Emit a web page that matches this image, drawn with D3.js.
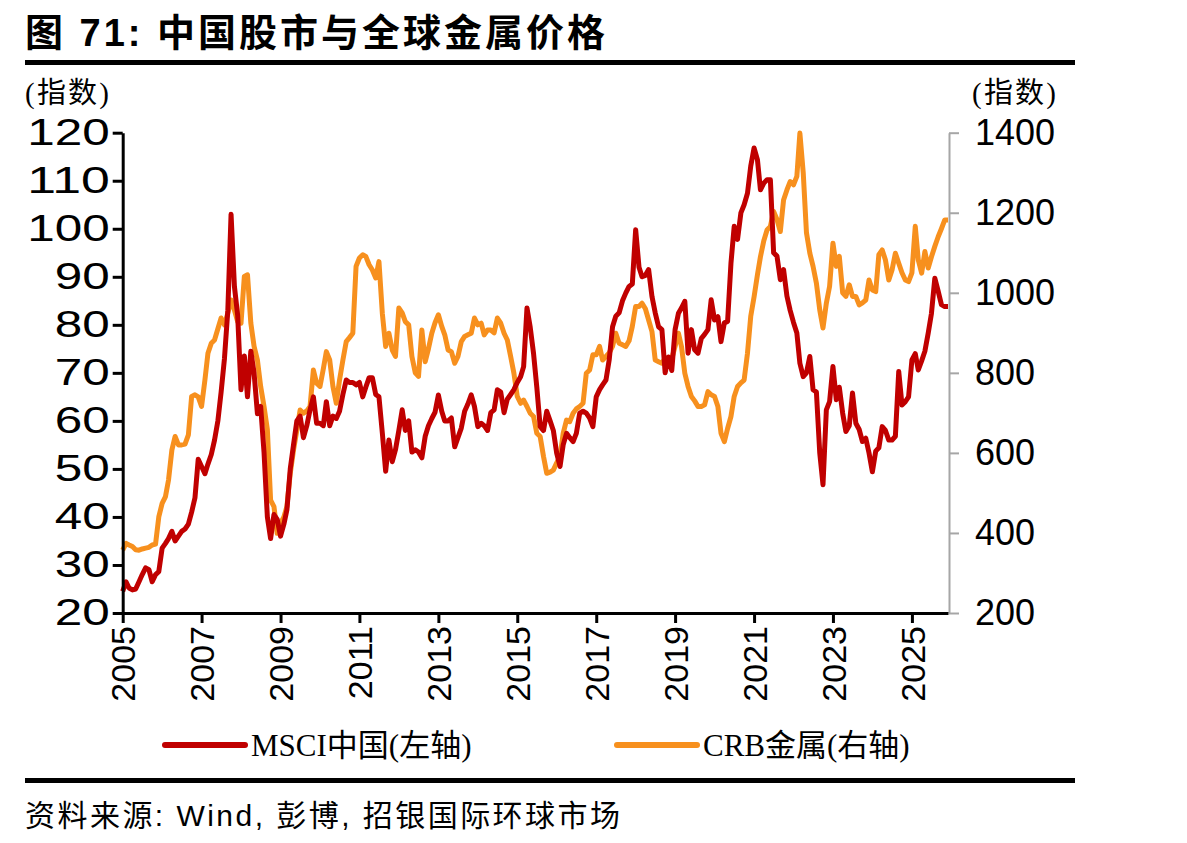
<!DOCTYPE html>
<html>
<head>
<meta charset="utf-8">
<script src="https://cdn.jsdelivr.net/npm/d3@7"></script>
<style>
  body { margin: 0; background: #fff; }
</style>
</head>
<body>
<svg id="chart" width="1187" height="843"></svg>
<script>
// monthly values, Jan 2005 .. Dec 2025
const startYear = 2005;

const msci = [
  24.5, 26.5, 25.2, 24.8, 25, 26.5, 28, 29.4, 29, 26.5, 28, 28.6,          // 2005
  33.5, 34.5, 35.5, 37, 35, 36, 37, 37.5, 38.5, 41, 44, 52,                // 2006
  50.5, 49, 51, 53, 56, 60, 66, 73, 83, 103, 88, 82,                       // 2007
  66.5, 73.5, 65, 74.5, 70, 61.5, 63, 53.5, 40, 35.5, 40.5, 39.5,          // 2008
  36, 38.5, 41.5, 50, 55, 60, 61, 56.5, 59, 62.3, 65, 59.5,                // 2009
  59.5, 59, 64, 59, 61, 60.5, 62, 65.5, 68.5, 68, 68, 67.5,                // 2010
  68, 65, 67, 69, 69, 65.5, 65, 57.5, 49.5, 56, 51.5, 54,                  // 2011
  58, 62.3, 58, 60, 53.5, 54, 53.5, 52.3, 56.8, 59, 60.5, 61.8,            // 2012
  65.4, 62, 60, 60, 60.6, 54.6, 56.5, 58.5, 62, 63.5, 65.4, 63,            // 2013
  58.8, 59.5, 59, 58, 61.7, 62.3, 66.5, 66, 61.7, 64.5, 65.5, 66.5,        // 2014
  68, 69.2, 71.3, 83.5, 79.5, 74, 67, 58.8, 58, 62, 60, 58,                // 2015
  53.3, 50.5, 55, 57.4, 56.5, 55.7, 57.4, 61.6, 62, 61.6, 60.6, 58.8,      // 2016
  65, 66.5, 67.5, 68.5, 72.7, 79.6, 81.8, 82.5, 85, 86.6, 88, 88.5,        // 2017
  99.8, 92, 90, 90.3, 91.5, 85.9, 82.5, 79.6, 79, 70, 73.3, 70.5,          // 2018
  79, 82.4, 83.5, 84.9, 74.1, 79, 74.8, 74.1, 77.2, 78, 79, 85.2,          // 2019
  81, 81.7, 76.5, 80.4, 80.7, 92.8, 100.5, 97.8, 103.3, 105, 107.4, 113,   // 2020
  116.8, 114.4, 108.1, 109.5, 110.2, 110.2, 95, 94.3, 89.4, 91.5, 86, 83,  // 2021
  80.5, 78.3, 72, 69.2, 70, 73.4, 66.5, 66, 53.3, 46.7, 62.3, 64,          // 2022
  71.3, 64.4, 67, 61.6, 57.8, 59, 65.8, 59.5, 58.2, 55.7, 56.4, 53.3,      // 2023
  49.4, 53.7, 54.4, 58.8, 58, 56, 56, 56.8, 70.3, 63.3, 64, 65,            // 2024
  72.7, 74, 70.6, 72.5, 74.5, 78.3, 82.4, 89.7, 87, 84.2, 83.8, 83.8       // 2025
];

const crb = [
  357, 374, 370, 366, 358, 357, 360, 362, 364, 370, 372, 440,              // 2005
  474, 491, 532, 607, 641, 620, 620, 622, 645, 741, 745, 740,              // 2006
  716, 782, 849, 874, 882, 910, 937, 920, 949, 982, 957, 928,              // 2007
  924, 1041, 1045, 924, 866, 832, 766, 716, 658, 482, 466, 399,            // 2008
  424, 440, 466, 549, 607, 657, 707, 699, 705, 716, 807, 774,              // 2009
  766, 810, 853, 832, 766, 724, 782, 832, 878, 888, 899, 1066,             // 2010
  1087, 1095, 1091, 1070, 1057, 1037, 1078, 949, 866, 899, 857, 841,       // 2011
  962, 950, 928, 920, 841, 800, 791, 907, 828, 860, 899, 925,              // 2012
  945, 916, 895, 857, 853, 824, 841, 878, 891, 895, 899, 937,              // 2013
  920, 924, 895, 907, 907, 900, 937, 924, 899, 882, 841, 799,              // 2014
  741, 724, 732, 716, 699, 691, 649, 641, 591, 549, 552, 557,              // 2015
  575, 591, 649, 682, 678, 699, 710, 716, 724, 799, 807, 845,              // 2016
  845, 866, 832, 841, 850, 866, 899, 874, 870, 866, 880, 916,              // 2017
  966, 966, 974, 960, 932, 903, 832, 828, 824, 837, 828, 835,              // 2018
  866, 899, 866, 799, 766, 741, 730, 716, 716, 720, 753, 745,              // 2019
  741, 716, 649, 628, 661, 691, 741, 766, 775, 782, 849, 941,              // 2020
  990, 1045, 1090, 1130, 1157, 1166, 1203, 1183, 1153, 1232, 1257, 1278,   // 2021
  1270, 1291, 1399, 1300, 1150, 1099, 1066, 1024, 957, 912, 974, 1016,     // 2022
  1124, 1066, 1091, 1000, 991, 1020, 991, 991, 970, 975, 982, 1032,        // 2023
  1007, 1003, 1095, 1107, 1082, 1032, 1057, 1099, 1074, 1050, 1032, 1028,  // 2024
  1050, 1166, 1082, 1049, 1103, 1062, 1090, 1116, 1140, 1160, 1182, 1182   // 2025
];

const leftTicks = [20, 30, 40, 50, 60, 70, 80, 90, 100, 110, 120];
const rightTicks = [200, 400, 600, 800, 1000, 1200, 1400];
const yearTicks = [2005, 2007, 2009, 2011, 2013, 2015, 2017, 2019, 2021, 2023, 2025];

const titleText = "图 71: 中国股市与全球金属价格";
const sourceText = "资料来源: Wind, 彭博, 招银国际环球市场";
const unitText = "(指数)";
const seriesNames = ["MSCI中国(左轴)", "CRB金属(右轴)"];
const colors = ["#C00000", "#F7901E"];

const sans = "'Liberation Sans', 'Noto Sans CJK SC', sans-serif";
const serif = "'Liberation Serif', 'Noto Sans CJK SC', serif";

const svg = d3.select("#chart");
const plot = {left: 122.7, right: 948, top: 132.7, bottom: 613};

const months = msci.map((d, i) => new Date(startYear, i, 1));

const x = d3.scaleTime()
  .domain([new Date(2005, 0, 1), new Date(2025, 11, 1)])
  .range([plot.left, plot.right]);
const yL = d3.scaleLinear().domain([20, 120]).range([plot.bottom, plot.top]);
const yR = d3.scaleLinear().domain([200, 1400]).range([plot.bottom, plot.top]);

// title and rules
svg.append("text")
  .attr("x", 25).attr("y", 46)
  .style("font-family", sans).style("font-size", "38px").style("font-weight", "bold")
  .attr("textLength", 580).attr("lengthAdjust", "spacing")
  .text(titleText);

svg.append("rect").attr("x", 25).attr("y", 60).attr("width", 1050).attr("height", 5).attr("fill", "#000");
svg.append("rect").attr("x", 25).attr("y", 778).attr("width", 1050).attr("height", 5).attr("fill", "#000");

// unit labels
[25, 972].forEach(ux => {
  svg.append("text").attr("x", ux).attr("y", 103)
    .style("font-family", serif).style("font-size", "29px")
    .attr("textLength", 84).attr("lengthAdjust", "spacing")
    .text(unitText);
});

// right axis (grey)
const rAxis = svg.append("g")
  .attr("transform", `translate(${plot.right + 1},0)`)
  .call(d3.axisRight(yR).tickValues(rightTicks).tickFormat(d3.format("d"))
    .tickSize(10).tickSizeOuter(0).tickPadding(16));
rAxis.select(".domain").attr("stroke", "#A6A6A6").attr("stroke-width", 2);
rAxis.selectAll(".tick line").attr("stroke", "#A6A6A6").attr("stroke-width", 2);
rAxis.selectAll(".tick text").attr("fill", "#000")
  .style("font-family", sans).style("font-size", "36px");

// lines
const lineL = d3.line().x((d, i) => x(months[i])).y(d => yL(d));
const lineR = d3.line().x((d, i) => x(months[i])).y(d => yR(d));

svg.append("path").datum(crb)
  .attr("fill", "none").attr("stroke", colors[1]).attr("stroke-width", 5)
  .attr("stroke-linejoin", "round").attr("d", lineR);
svg.append("path").datum(msci)
  .attr("fill", "none").attr("stroke", colors[0]).attr("stroke-width", 5)
  .attr("stroke-linejoin", "round").attr("d", lineL);

// left axis, labels drawn wider like the original
const lAxis = svg.append("g")
  .attr("transform", `translate(${plot.left},0)`)
  .call(d3.axisLeft(yL).tickValues(leftTicks).tickSize(10).tickSizeOuter(0).tickPadding(3));
lAxis.select(".domain").attr("stroke", "#000").attr("stroke-width", 3);
lAxis.selectAll(".tick line").attr("stroke", "#000").attr("stroke-width", 3);
lAxis.selectAll(".tick text").attr("fill", "#000")
  .style("font-family", sans).style("font-size", "36px")
  .attr("textLength", d => String(d).length * 27.5)
  .attr("lengthAdjust", "spacingAndGlyphs");

// bottom axis
const xAxis = svg.append("g")
  .attr("transform", `translate(0,${plot.bottom})`)
  .call(d3.axisBottom(x)
    .tickValues(yearTicks.map(yr => new Date(yr, 0, 1)))
    .tickFormat(d3.timeFormat("%Y"))
    .tickSize(10).tickSizeOuter(0));
xAxis.select(".domain").attr("stroke", "#000").attr("stroke-width", 3);
xAxis.selectAll(".tick line").attr("stroke", "#000").attr("stroke-width", 3);
xAxis.selectAll(".tick text")
  .attr("fill", "#000").style("font-family", sans).style("font-size", "34px")
  .attr("transform", "rotate(-90)")
  .attr("x", -13).attr("y", 0).attr("dy", "0.36em")
  .style("text-anchor", "end");

// legend
const legend = svg.append("g").attr("class", "legend");
const legendX = [165, 617];
seriesNames.forEach((name, i) => {
  legend.append("line")
    .attr("x1", legendX[i]).attr("x2", legendX[i] + 80)
    .attr("y1", 745).attr("y2", 745)
    .attr("stroke", colors[i]).attr("stroke-width", 6).attr("stroke-linecap", "round");
  legend.append("text")
    .attr("x", legendX[i] + 86).attr("y", 756)
    .style("font-family", serif).style("font-size", "31px")
    .text(name);
});

// source
svg.append("text")
  .attr("x", 25).attr("y", 826)
  .style("font-family", sans).style("font-size", "30px")
  .attr("textLength", 595).attr("lengthAdjust", "spacing")
  .text(sourceText);
</script>
</body>
</html>
